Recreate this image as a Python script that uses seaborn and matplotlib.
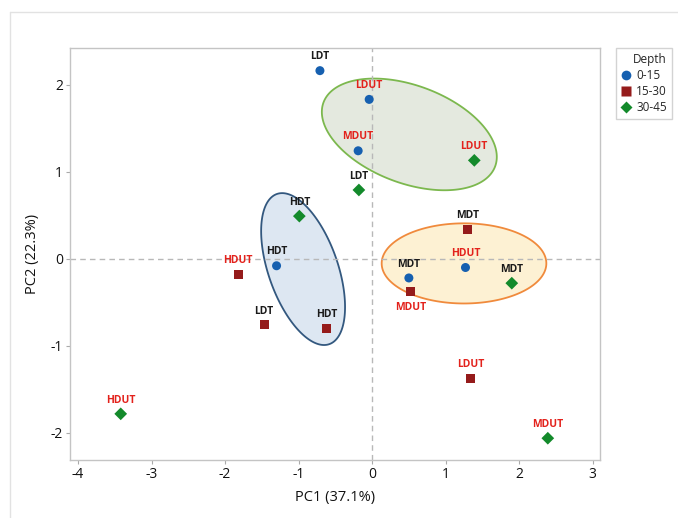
import numpy as np
import pandas as pd
import matplotlib
matplotlib.use("Agg")
import matplotlib.pyplot as plt
from matplotlib.lines import Line2D
import seaborn as sns

# ---- data ----
labels = ["LDT", "LDUT", "MDUT", "HDT", "MDT", "HDUT",
          "HDUT", "LDT", "HDT", "MDT", "MDUT", "LDUT",
          "LDUT", "LDT", "HDT", "MDT", "HDUT", "MDUT"]
depths = ["0-15"] * 6 + ["15-30"] * 6 + ["30-45"] * 6
pc1 = [-0.71, -0.04, -0.19, -1.30, 0.50, 1.27,
       -1.82, -1.47, -0.62, 1.30, 0.52, 1.34,
       1.39, -0.18, -0.99, 1.90, -3.42, 2.39]
pc2 = [2.16, 1.83, 1.24, -0.08, -0.22, -0.10,
       -0.18, -0.76, -0.80, 0.34, -0.38, -1.37,
       1.13, 0.79, 0.49, -0.28, -1.78, -2.06]
below = [False] * 18
below[10] = True  # MDUT 15-30 label sits under the point

depth_levels = ["0-15", "15-30", "30-45"]
depth_colors = ["#1660b0", "#951b1b", "#138a2b"]
depth_markers = ["o", "s", "D"]

# ellipses: centre, first and second conjugate semi-axis vectors (data units)
ell_centers = [(0.506, 1.428), (-0.939, -0.118), (1.25, -0.053)]
ell_u = [(1.167, -0.368), (-0.356, 0.862), (1.12, 0.0)]
ell_v = [(0.233, 0.525), (0.446, 0.131), (0.0, 0.46)]
ell_fill = ["#e4e9df", "#dde7f2", "#fdf1d3"]
ell_edge = ["#7cb84e", "#33587f", "#f08a3c"]

df = pd.DataFrame({"PC1": pc1, "PC2": pc2, "Depth": depths, "Label": labels})

sns.set_theme(style="white")
plt.rcParams["font.family"] = ["Open Sans", "DejaVu Sans"]
plt.rcParams["axes.unicode_minus"] = False

W, H = 678, 518
fig = plt.figure(figsize=(W / 100, H / 100), dpi=100)
ax = fig.add_axes([70 / W, 1 - 460 / H, 530 / W, 412 / H])

# ellipses
t = np.linspace(0, 2 * np.pi, 300)
for c, u, v, fc, ec in zip(ell_centers, ell_u, ell_v, ell_fill, ell_edge):
    ex = c[0] + u[0] * np.cos(t) + v[0] * np.sin(t)
    ey = c[1] + u[1] * np.cos(t) + v[1] * np.sin(t)
    ax.fill(ex, ey, facecolor=fc, edgecolor=ec, linewidth=1.3, zorder=1)

ax.axhline(0, color="#b8b8b8", linestyle=(0, (4, 3)), linewidth=1.0, zorder=2)
ax.axvline(0, color="#b8b8b8", linestyle=(0, (4, 3)), linewidth=1.0, zorder=2)

sns.scatterplot(data=df, x="PC1", y="PC2", hue="Depth", style="Depth",
                hue_order=depth_levels, style_order=depth_levels,
                palette=dict(zip(depth_levels, depth_colors)),
                markers=dict(zip(depth_levels, depth_markers)),
                s=42, edgecolor="none", linewidth=0, legend=False, ax=ax, zorder=3)

for x, y, lab, b in zip(pc1, pc2, labels, below):
    col = "#e3221c" if lab.endswith("DUT") else "#1a1a1a"
    ax.annotate(lab, (x, y), xytext=(0, -7 if b else 6), textcoords="offset points",
                ha="center", va="top" if b else "bottom", fontsize=7.5,
                fontweight="bold", color=col, zorder=4)

ax.set_xlim(-4.11, 3.10)
ax.set_ylim(-2.31, 2.42)
ax.set_xticks([-4, -3, -2, -1, 0, 1, 2, 3])
ax.set_yticks([-2, -1, 0, 1, 2])
ax.set_xlabel("PC1 (37.1%)", fontsize=10.5, color="#111111", labelpad=6)
ax.set_ylabel("PC2 (22.3%)", fontsize=10.5, color="#111111", labelpad=8)
ax.tick_params(axis="both", which="both", direction="out", length=3, width=0.8,
               color="#aaaaaa", labelsize=10, labelcolor="#111111", pad=2,
               bottom=True, left=True)
for s in ax.spines.values():
    s.set_color("#c4c4c4")
    s.set_linewidth(1.0)

handles = [Line2D([0], [0], marker=m, color="none", markerfacecolor=c,
                  markeredgecolor="none", markersize=7 if m != "D" else 6, label=l)
           for l, c, m in zip(depth_levels, depth_colors, depth_markers)]
leg = fig.legend(handles=handles, title="Depth", loc="upper left",
                 bbox_to_anchor=(615.7 / W, 1 - 47.7 / H), bbox_transform=fig.transFigure,
                 fontsize=8.5, title_fontsize=8.5, frameon=True, fancybox=False,
                 handlelength=0.8, handletextpad=0.5, borderpad=0.45, labelspacing=0.25,
                 borderaxespad=0)
leg.get_frame().set_edgecolor("#c8c8c8")
leg.get_frame().set_linewidth(1.0)
leg._legend_box.align = "right"

# faint outer frame of the original figure
fig.add_artist(Line2D([10 / W, 10 / W], [0, 1 - 12 / H], transform=fig.transFigure,
                      color="#e2e2e2", linewidth=1.0))
fig.add_artist(Line2D([10 / W, 1], [1 - 12 / H, 1 - 12 / H], transform=fig.transFigure,
                      color="#e2e2e2", linewidth=1.0))

fig.savefig("out.png", dpi=100)
